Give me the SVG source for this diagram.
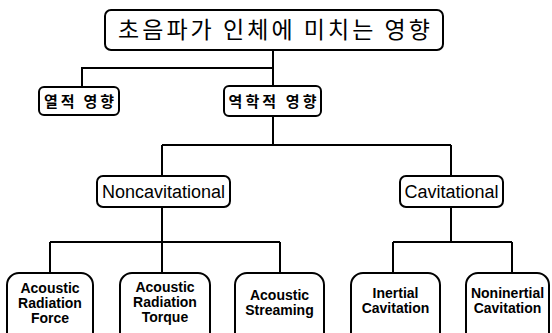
<svg xmlns="http://www.w3.org/2000/svg" width="552" height="333" viewBox="0 0 552 333">
<style>
.box{fill:#fff;stroke:#000;stroke-width:2}
.ln{fill:none;stroke:#000;stroke-width:2}
.ko{font-family:"Noto Sans CJK KR","DejaVu Sans",sans-serif;fill:#000;text-anchor:middle}
.kb{font-family:"Noto Sans CJK KR","DejaVu Sans",sans-serif;font-weight:bold;font-size:15px;fill:#000;text-anchor:middle}
.en{font-family:"Liberation Sans",Arial,sans-serif;font-size:18px;fill:#000;text-anchor:middle}
.eb{font-family:"Liberation Sans",Arial,sans-serif;font-weight:bold;font-size:14px;fill:#000;text-anchor:middle}
</style>
<rect width="552" height="333" fill="#fff"/>
<g id="connectors">
<path class="ln" d="M273 50V86M273 116V145M273 68H82V87"/>
<path class="ln" d="M162 145H451M162 145V176M451 145V176"/>
<path class="ln" d="M162 207V273M50 242H280M50 242V273M280 242V273"/>
<path class="ln" d="M451 207V242M393 242H512M393 242V273M512 242V273"/>
</g>
<g id="root">
<rect class="box" x="105" y="10" width="338" height="40" rx="6"/>
<text class="ko" x="274" y="38" font-size="23" textLength="312" lengthAdjust="spacing">초음파가 인체에 미치는 영향</text>
</g>
<g id="thermal">
<rect class="box" x="39" y="87" width="80" height="28" rx="5"/>
<text class="kb" x="79" y="106.5" textLength="70" lengthAdjust="spacing">열적 영향</text>
</g>
<g id="mechanical">
<rect class="box" x="224" y="86" width="97" height="30" rx="5"/>
<text class="kb" x="272.5" y="106.5" textLength="88" lengthAdjust="spacing">역학적 영향</text>
</g>
<g id="noncav">
<rect class="box" x="97" y="176" width="133" height="31" rx="6"/>
<text class="en" x="163.5" y="198">Noncavitational</text>
</g>
<g id="cav">
<rect class="box" x="400" y="176" width="103" height="31" rx="6"/>
<text class="en" x="451.5" y="198">Cavitational</text>
</g>
<g id="arf">
<rect class="box" x="7" y="273" width="86" height="75" rx="12"/>
<text class="eb" x="50" y="293">Acoustic</text>
<text class="eb" x="50" y="308">Radiation</text>
<text class="eb" x="50" y="323">Force</text>
</g>
<g id="art">
<rect class="box" x="120" y="273" width="90" height="75" rx="12"/>
<text class="eb" x="165" y="292">Acoustic</text>
<text class="eb" x="165" y="307">Radiation</text>
<text class="eb" x="165" y="322">Torque</text>
</g>
<g id="as">
<rect class="box" x="235" y="273" width="89" height="75" rx="12"/>
<text class="eb" x="279.5" y="300">Acoustic</text>
<text class="eb" x="279.5" y="315">Streaming</text>
</g>
<g id="ic">
<rect class="box" x="351" y="273" width="89" height="75" rx="12"/>
<text class="eb" x="395.5" y="298">Inertial</text>
<text class="eb" x="395.5" y="313">Cavitation</text>
</g>
<g id="nic">
<rect class="box" x="466" y="273" width="83" height="75" rx="12"/>
<text class="eb" x="507.5" y="298">Noninertial</text>
<text class="eb" x="507.5" y="313">Cavitation</text>
</g>
</svg>
